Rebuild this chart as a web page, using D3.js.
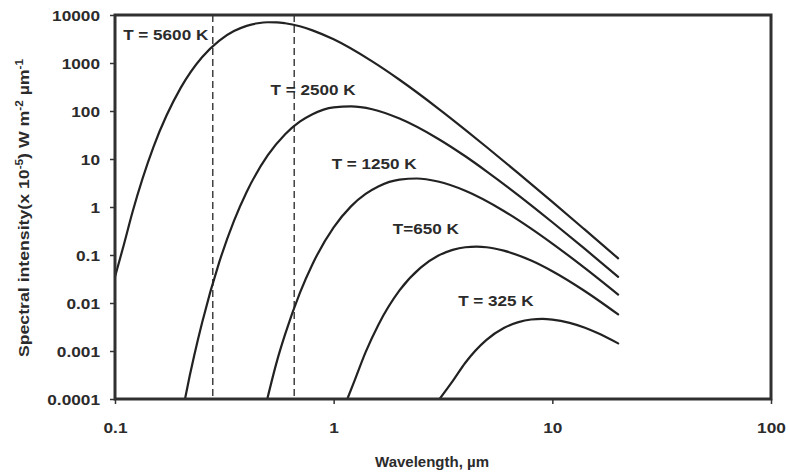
<!DOCTYPE html>
<html><head><meta charset="utf-8">
<script src="https://cdn.jsdelivr.net/npm/d3@7"></script>
<style>
html,body{margin:0;padding:0;background:#fff;}
svg{display:block;}
text{font-family:"Liberation Sans",Arial,sans-serif;font-weight:bold;fill:#2b2b2b;}
.tick text{font-size:15px;}
.tlabel{font-size:15px;}
.atitle{font-size:15px;}
</style></head><body>
<svg id="c" width="788" height="475"></svg>
<script>
// ---- data ----
const xTicks = [0.1, 1, 10, 100];
const xTickLabels = ["0.1", "1", "10", "100"];
const yTicks = [0.0001, 0.001, 0.01, 0.1, 1, 10, 100, 1000, 10000];
const yTickLabels = ["0.0001", "0.001", "0.01", "0.1", "1", "10", "100", "1000", "10000"];
const temps = ["T = 5600 K", "T = 2500 K", "T = 1250 K", "T=650 K", "T = 325 K"];

const wl5600  = [0.1, 0.11, 0.12, 0.15, 0.2, 0.25, 0.3, 0.35, 0.4, 0.45, 0.5, 0.55, 0.6, 0.7, 0.8, 1, 1.5, 2, 3, 4, 5, 7, 10, 14, 20];
const int5600 = [0.035, 0.17, 0.76, 17.9, 307, 1320, 2940, 4620, 5940, 6740, 7060, 7030, 6740, 5820, 4790, 3110, 1080, 448, 114, 40.6, 17.8, 5.02, 1.28, 0.345, 0.085];

const wl2500  = [0.209, 0.22, 0.23, 0.25, 0.3, 0.35, 0.4, 0.5, 0.6, 0.7, 0.8, 1.0, 1.2, 1.5, 2, 3, 4, 5, 7, 10, 14, 20];
const int2500 = [0.0001, 0.000316, 0.00079, 0.00385, 0.0718, 0.515, 2.06, 12.0, 32.9, 59.8, 85.8, 119, 125, 109, 69.7, 26.5, 11.4, 5.54, 1.75, 0.481, 0.137, 0.0351];

const wl1250  = [0.497, 0.55, 0.6, 0.7, 0.8, 1.0, 1.2, 1.4, 1.6, 2.0, 2.4, 3.0, 4, 6, 8, 10, 14, 20];
const int1250 = [0.0001, 0.000609, 0.00224, 0.0161, 0.0644, 0.375, 1.03, 1.87, 2.68, 3.72, 3.92, 3.39, 2.18, 0.828, 0.355, 0.173, 0.0546, 0.0150];

const wl650  = [1.155, 1.25, 1.4, 1.6, 2.0, 2.5, 3, 3.5, 4, 4.5, 5, 6, 8, 10, 14, 20];
const int650 = [0.0001, 0.00025, 0.000946, 0.0035, 0.0183, 0.0547, 0.0963, 0.128, 0.145, 0.149, 0.145, 0.123, 0.0766, 0.0459, 0.018, 0.00578];

const wl325  = [3.05, 3.5, 4, 5, 6, 7, 8, 9, 10, 12, 14, 16, 20];
const int325 = [0.0001, 0.000235, 0.00057, 0.00171, 0.00301, 0.0040, 0.00453, 0.00467, 0.00452, 0.00386, 0.00308, 0.00239, 0.00144];

const labelWl  = [0.109, 0.514, 0.979, 1.865, 3.71];
const labelInt = [3010, 215, 6.19, 0.274, 0.00866];
const dashedWl = [0.28, 0.66];

// ---- layout ----
const L = 115, R = 771, T = 15, B = 399;
const svg = d3.select("#c");
const x = d3.scaleLog().domain([0.1, 100]).range([L, R]);
const y = d3.scaleLog().domain([0.0001, 10000]).range([B, T]);

svg.append("defs").append("clipPath").attr("id", "clip")
  .append("rect").attr("x", L).attr("y", T).attr("width", R - L).attr("height", B - T);

const series = [[wl5600, int5600], [wl2500, int2500], [wl1250, int1250], [wl650, int650], [wl325, int325]]
  .map(([w, v]) => w.map((d, i) => [d, v[i]]));

const line = d3.line().x(d => x(d[0])).y(d => y(d[1])).curve(d3.curveMonotoneX);

// dashed band lines
svg.append("g").selectAll("line").data(dashedWl).join("line")
  .attr("x1", d => x(d)).attr("x2", d => x(d))
  .attr("y1", T).attr("y2", B)
  .attr("stroke", "#333").attr("stroke-width", 1.4).attr("stroke-dasharray", "7,4");

// curves
svg.append("g").attr("clip-path", "url(#clip)").selectAll("path").data(series).join("path")
  .attr("d", line).attr("fill", "none").attr("stroke", "#222").attr("stroke-width", 2.2)
  .attr("stroke-linejoin", "round").attr("stroke-linecap", "round");

// axes
const ya = svg.append("g").attr("transform", `translate(${L},0)`)
  .call(d3.axisLeft(y).tickValues(yTicks).tickFormat((d, i) => yTickLabels[i]).tickSize(5).tickSizeOuter(0));
ya.select(".domain").remove();
ya.selectAll(".tick line").attr("stroke", "#333").attr("stroke-width", 1.5);
ya.selectAll(".tick text").attr("x", 0).attr("dy", "0.36em")
  .attr("transform", "translate(-15,0) scale(1.15,1)").attr("text-anchor", "end");

const xa = svg.append("g").attr("transform", `translate(0,${B})`)
  .call(d3.axisBottom(x).tickValues(xTicks).tickFormat((d, i) => xTickLabels[i]).tickSize(5).tickSizeOuter(0));
xa.select(".domain").remove();
xa.selectAll(".tick line").attr("stroke", "#333").attr("stroke-width", 1.5);
xa.selectAll(".tick text").attr("y", 0).attr("dy", 0)
  .attr("transform", "translate(0,34) scale(1.15,1)").attr("text-anchor", "middle");

// frame
svg.append("rect").attr("x", L).attr("y", T).attr("width", R - L).attr("height", B - T)
  .attr("fill", "none").attr("stroke", "#303030").attr("stroke-width", 3);

// temperature labels
svg.append("g").selectAll("text").data(temps).join("text")
  .attr("class", "tlabel")
  .attr("transform", (d, i) => `translate(${x(labelWl[i])},${y(labelInt[i])}) scale(1.14,1)`)
  .text(d => d);

// axis titles
svg.append("text").attr("class", "atitle").attr("text-anchor", "middle")
  .attr("x", 432).attr("y", 467).text("Wavelength, \u00b5m");

const yt = svg.append("text").attr("class", "atitle").attr("text-anchor", "middle")
  .attr("transform", "translate(29,208) rotate(-90) scale(1.18,1)");
yt.append("tspan").text("Spectral intensity(x 10");
yt.append("tspan").attr("font-size", "10px").attr("dy", -6).text("-5");
yt.append("tspan").attr("dy", 6).text(") W m");
yt.append("tspan").attr("font-size", "10px").attr("dy", -6).text("-2");
yt.append("tspan").attr("dy", 6).text(" \u00b5m");
yt.append("tspan").attr("font-size", "10px").attr("dy", -6).text("-1");
</script>
</body></html>
